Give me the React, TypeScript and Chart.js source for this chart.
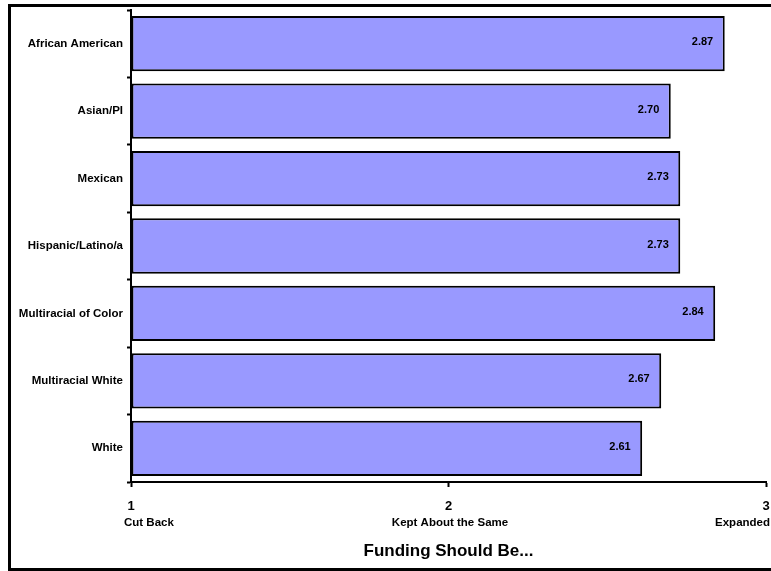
import React, { useEffect, useRef } from "react";
import { Chart, registerables } from "chart.js";

Chart.register(...registerables);

// Mean rating by group (1 = Cut Back, 2 = Kept About the Same, 3 = Expanded)
const groups = [
  "African American",
  "Asian/PI",
  "Mexican",
  "Hispanic/Latino/a",
  "Multiracial of Color",
  "Multiracial White",
  "White",
];
const meanRatings = [2.87, 2.7, 2.73, 2.73, 2.84, 2.67, 2.61];
const scaleValues = [1, 2, 3];
const scaleMeanings = ["Cut Back", "Kept About the Same", "Expanded"];
const axisTitle = "Funding Should Be...";

const FONT = "'Liberation Sans', Arial, Helvetica, sans-serif";

// Writes the value at the right end of every bar
const barValuePlugin = {
  id: "barValues",
  afterDatasetsDraw(chart: any) {
    const ctx = chart.ctx;
    const meta = chart.getDatasetMeta(0);
    ctx.save();
    ctx.font = `bold 11px ${FONT}`;
    ctx.fillStyle = "#000";
    ctx.textAlign = "right";
    ctx.textBaseline = "middle";
    meta.data.forEach((bar: any, i: number) => {
      ctx.fillText(meanRatings[i].toFixed(2), bar.x - 11.5, bar.y - 1.5);
    });
    ctx.restore();
  },
};

// Meanings under the scale numbers, and the axis caption
const scaleCaptionPlugin = {
  id: "scaleCaptions",
  afterDraw(chart: any) {
    const ctx = chart.ctx;
    const x = chart.scales.x;
    ctx.save();
    ctx.fillStyle = "#000";
    ctx.textBaseline = "alphabetic";
    ctx.font = `bold 11.5px ${FONT}`;
    scaleValues.forEach((v, i) => {
      const px = x.getPixelForValue(v);
      if (i === 0) {
        ctx.textAlign = "left";
        ctx.fillText(scaleMeanings[i], px - 7, 519);
      } else if (i === scaleValues.length - 1) {
        ctx.textAlign = "right";
        ctx.fillText(scaleMeanings[i], chart.width - 1, 519);
      } else {
        ctx.textAlign = "center";
        ctx.fillText(scaleMeanings[i], px + 1.5, 519);
      }
    });
    ctx.font = `bold 17px ${FONT}`;
    ctx.textAlign = "center";
    ctx.fillText(axisTitle, (x.left + x.right) / 2, 549);
    ctx.restore();
  },
};

export default function App() {
  const canvasRef = useRef<HTMLCanvasElement | null>(null);

  useEffect(() => {
    if (!canvasRef.current) return;
    const chart = new Chart(canvasRef.current, {
      type: "bar",
      data: {
        labels: groups,
        datasets: [
          {
            data: meanRatings,
            base: 1,
            backgroundColor: "#9999FF",
            borderColor: "#000000",
            borderWidth: 2,
            borderSkipped: false,
            categoryPercentage: 1,
            barPercentage: 0.82,
          },
        ],
      },
      options: {
        indexAxis: "y",
        responsive: false,
        animation: false,
        layout: { padding: { top: 3, right: 5, bottom: 0, left: 0 } },
        plugins: {
          legend: { display: false },
          tooltip: { enabled: false },
          title: { display: false },
        },
        scales: {
          x: {
            type: "linear",
            min: 1,
            max: 3,
            afterFit(scale: any) {
              scale.height = 86;
              scale.paddingLeft = 0;
              scale.paddingRight = 0;
            },
            ticks: {
              stepSize: 1,
              color: "#000",
              padding: 11.5,
              font: { family: FONT, size: 13, weight: "bold" },
            },
            grid: {
              drawOnChartArea: false,
              drawTicks: true,
              tickLength: 5,
              tickWidth: 2,
              tickColor: "#000",
            },
            border: { display: true, color: "#000", width: 2 },
          },
          y: {
            type: "category",
            afterFit(scale: any) {
              scale.width = 120;
              scale.paddingTop = 0;
              scale.paddingBottom = 0;
            },
            ticks: {
              color: "#000",
              padding: 4,
              font: { family: FONT, size: 11.5, weight: "bold" },
            },
            grid: {
              drawOnChartArea: false,
              drawTicks: true,
              tickLength: 4,
              tickWidth: 2,
              tickColor: "#000",
            },
            border: { display: true, color: "#000", width: 2 },
          },
        },
      },
      plugins: [barValuePlugin, scaleCaptionPlugin],
    });
    return () => chart.destroy();
  }, []);

  return (
    <div
      style={{
        position: "absolute",
        left: 8,
        top: 4,
        width: 763,
        height: 567,
        boxSizing: "border-box",
        borderTop: "3px solid #000",
        borderLeft: "3px solid #000",
        borderBottom: "3px solid #000",
        background: "#fff",
      }}
    >
      <canvas ref={canvasRef} width={760} height={561} style={{ display: "block" }} />
    </div>
  );
}
